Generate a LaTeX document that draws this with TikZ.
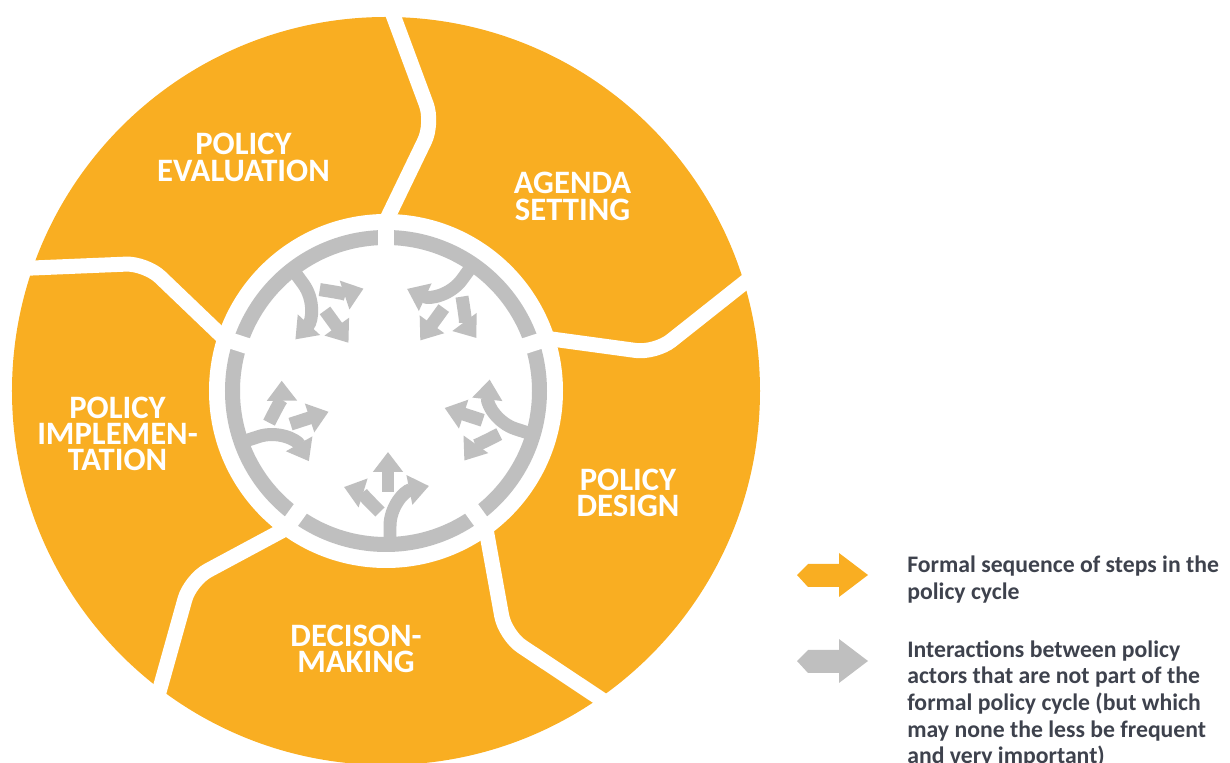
\documentclass[tikz,border=0pt]{standalone}
\usepackage{fontspec}
\setmainfont{Carlito}
\usetikzlibrary{arrows.meta}
\definecolor{cycleorange}{RGB}{249,174,34}
\definecolor{actorgray}{RGB}{191,191,191}
\definecolor{legendtext}{RGB}{62,66,77}

\begin{document}
\begin{tikzpicture}[
                    x=0.02cm, y=0.02cm,
                    stage/.style={text=white, font=\bfseries\fontsize{18.6}{15}\selectfont, align=center, inner sep=0pt},
                    legend/.style={text=legendtext, font=\bfseries\fontsize{13.5}{15.2}\selectfont, align=left, anchor=north west, inner sep=0pt},
                    divider/.style={white, line width=0.3cm, rounded corners=0.4cm},
                    interaction/.style={actorgray, line width=0.26cm, -{Triangle[width=0.58cm,length=0.4cm]}}
                ]
                \useasboundingbox (-386,-372) rectangle (844,391);

                % Cycle
                \fill[cycleorange] (0,0) circle (374);
                \fill[white] (0,0) circle (177);
                \foreach \a in {90,18,-54,-126,162}
                    \draw[divider] (\a:170) -- ({\a-10}:272) -- (\a:395);

                % Ring of actors
                \draw[actorgray, line width=0.3cm] (0,0) circle (153.5);
                \foreach \a in {90,18,-54,-126,162}
                    \draw[white, line width=0.32cm] (\a:140) -- (\a:168);

                % Interactions
                \foreach \r in {0,72,144,216,288} {
                    \begin{scope}[rotate=\r]
                        \draw[interaction] (4,-154) -- (4,-135) .. controls (4,-116) and (18,-100) .. (43,-95);
                        \draw[interaction] (2,-101) -- (2,-61);
                        \draw[interaction] (-6,-121) .. controls (-14,-113) and (-26,-101) .. (-42,-96);
                    \end{scope}
                }

                % Stages
                \node[stage] (agenda) at (186.5,194.5) {AGENDA\\SETTING};
                \node[stage] (design) at (242,-102) {POLICY\\DESIGN};
                \node[stage] (decision) at (-30,-258) {DECISON-\\MAKING};
                \node[stage] (implementation) at (-268.5,-43) {POLICY\\IMPLEMEN-\\TATION};
                \node[stage] (evaluation) at (-142.5,233.5) {POLICY\\EVALUATION};

                % Legend
                \fill[cycleorange] (411,-184) -- (422,-173) -- (453,-173) -- (453,-162) -- (482,-184) -- (453,-206) -- (453,-196) -- (422,-196) -- cycle;
                \fill[actorgray] (411,-270) -- (422,-259) -- (453,-259) -- (453,-248) -- (482,-270) -- (453,-292) -- (453,-282) -- (422,-282) -- cycle;
                \node[legend] (formal) at (521,-165) {Formal sequence of steps in the\\policy cycle};
                \node[legend] (informal) at (521,-249) {Interactions between policy\\actors that are not part of the\\formal policy cycle (but which\\may none the less be frequent\\and very important)};
            \end{tikzpicture}
\end{document}
